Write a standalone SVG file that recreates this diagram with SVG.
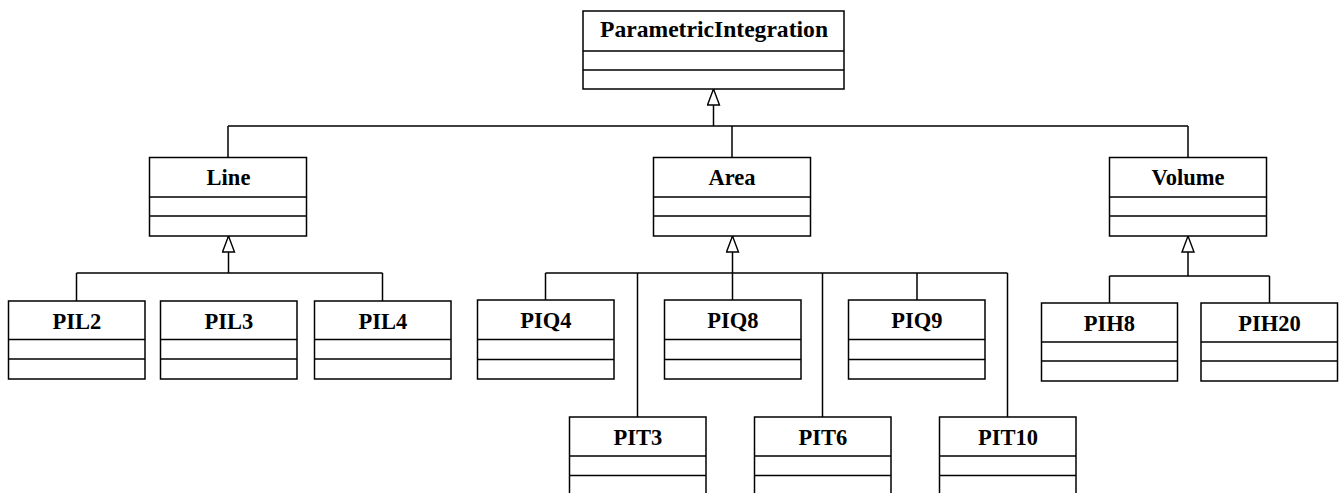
<svg xmlns="http://www.w3.org/2000/svg" width="1343" height="493" viewBox="0 0 1343 493">
  <style>
    .box { fill: #ffffff; stroke: #000000; stroke-width: 1.5; }
    .div { stroke: #000000; stroke-width: 1.5; fill: none; }
    .name { font-family: "Liberation Serif", "Times New Roman", serif; font-weight: bold; font-size: 22.5px; text-anchor: middle; fill: #000000; }
    .wire { stroke: #000000; stroke-width: 1.5; fill: none; }
  </style>
  <defs>
    <marker id="gen" viewBox="0 0 18 14" refX="17" refY="7" markerWidth="18" markerHeight="14" markerUnits="userSpaceOnUse" orient="auto">
      <path d="M1,1 L17,7 L1,13 Z" fill="#ffffff" stroke="#000000" stroke-width="1.4"/>
    </marker>
  </defs>
  <rect width="1343" height="493" fill="#ffffff"/>

  <!-- connectors -->
  <g id="connectors">
    <!-- root generalization -->
    <path class="wire" d="M713.5,126 L713.5,89" marker-end="url(#gen)"/>
    <path class="wire" d="M228,126 L1188,126 M228,126 L228,157 M732,126 L732,157 M1188,126 L1188,157"/>
    <!-- Line generalization -->
    <path class="wire" d="M228.5,273 L228.5,236" marker-end="url(#gen)"/>
    <path class="wire" d="M76.5,273 L382.5,273 M76.5,273 L76.5,301 M382.5,273 L382.5,301"/>
    <!-- Area generalization -->
    <path class="wire" d="M732.5,273 L732.5,236" marker-end="url(#gen)"/>
    <path class="wire" d="M545.5,273 L1007.5,273 M545.5,273 L545.5,300 M637.5,273 L637.5,417 M732.5,273 L732.5,300 M822.5,273 L822.5,417 M917,273 L917,300 M1007.5,273 L1007.5,417"/>
    <!-- Volume generalization -->
    <path class="wire" d="M1188,276 L1188,236" marker-end="url(#gen)"/>
    <path class="wire" d="M1109.5,276 L1269.5,276 M1109.5,276 L1109.5,303 M1269.5,276 L1269.5,303"/>
  </g>

  <!-- classes -->
  <g id="ParametricIntegration">
    <rect class="box" x="583" y="11" width="261" height="78"/>
    <path class="div" d="M583,51 H844 M583,70 H844"/>
    <text class="name" x="714" y="36.5" textLength="228" lengthAdjust="spacingAndGlyphs">ParametricIntegration</text>
  </g>
  <g id="Line">
    <rect class="box" x="149.5" y="157.5" width="157" height="78.5"/>
    <path class="div" d="M149.5,197 H306.5 M149.5,216 H306.5"/>
    <text class="name" x="228.5" y="185">Line</text>
  </g>
  <g id="Area">
    <rect class="box" x="653.5" y="157.5" width="157" height="78.5"/>
    <path class="div" d="M653.5,197 H810.5 M653.5,216 H810.5"/>
    <text class="name" x="732" y="185">Area</text>
  </g>
  <g id="Volume">
    <rect class="box" x="1109.5" y="157.5" width="157" height="78.5"/>
    <path class="div" d="M1109.5,197 H1266.5 M1109.5,216 H1266.5"/>
    <text class="name" x="1188" y="185">Volume</text>
  </g>

  <g id="PIL2">
    <rect class="box" x="8.5" y="301" width="136.5" height="78"/>
    <path class="div" d="M8.5,339.5 H145 M8.5,359 H145"/>
    <text class="name" x="77" y="328.5">PIL2</text>
  </g>
  <g id="PIL3">
    <rect class="box" x="160.5" y="301" width="136.5" height="78"/>
    <path class="div" d="M160.5,339.5 H297 M160.5,359 H297"/>
    <text class="name" x="229" y="328.5">PIL3</text>
  </g>
  <g id="PIL4">
    <rect class="box" x="314.5" y="301" width="136.5" height="78"/>
    <path class="div" d="M314.5,339.5 H451 M314.5,359 H451"/>
    <text class="name" x="383" y="328.5">PIL4</text>
  </g>

  <g id="PIQ4">
    <rect class="box" x="477.5" y="300" width="136.5" height="79"/>
    <path class="div" d="M477.5,339.5 H614 M477.5,359.5 H614"/>
    <text class="name" x="546" y="328">PIQ4</text>
  </g>
  <g id="PIQ8">
    <rect class="box" x="664.5" y="300" width="136.5" height="79"/>
    <path class="div" d="M664.5,339.5 H801 M664.5,359.5 H801"/>
    <text class="name" x="733" y="328">PIQ8</text>
  </g>
  <g id="PIQ9">
    <rect class="box" x="848.5" y="300" width="136.5" height="79"/>
    <path class="div" d="M848.5,339.5 H985 M848.5,359.5 H985"/>
    <text class="name" x="917" y="328">PIQ9</text>
  </g>

  <g id="PIT3">
    <rect class="box" x="569.5" y="417" width="136.5" height="80"/>
    <path class="div" d="M569.5,456 H706 M569.5,475.5 H706"/>
    <text class="name" x="638" y="444.5">PIT3</text>
  </g>
  <g id="PIT6">
    <rect class="box" x="754.5" y="417" width="136.5" height="80"/>
    <path class="div" d="M754.5,456 H891 M754.5,475.5 H891"/>
    <text class="name" x="823" y="444.5">PIT6</text>
  </g>
  <g id="PIT10">
    <rect class="box" x="939.5" y="417" width="136.5" height="80"/>
    <path class="div" d="M939.5,456 H1076 M939.5,475.5 H1076"/>
    <text class="name" x="1008" y="444.5">PIT10</text>
  </g>

  <g id="PIH8">
    <rect class="box" x="1041.5" y="303" width="136" height="78"/>
    <path class="div" d="M1041.5,342 H1177.5 M1041.5,361 H1177.5"/>
    <text class="name" x="1109.5" y="330.5">PIH8</text>
  </g>
  <g id="PIH20">
    <rect class="box" x="1201" y="303" width="136.5" height="78"/>
    <path class="div" d="M1201,342 H1337.5 M1201,361 H1337.5"/>
    <text class="name" x="1269.5" y="330.5">PIH20</text>
  </g>
</svg>
